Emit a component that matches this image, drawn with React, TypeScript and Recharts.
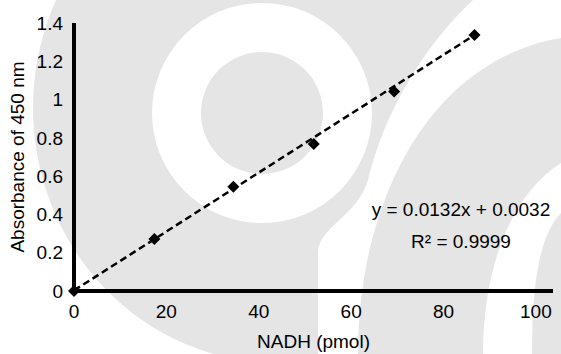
import { ScatterChart, Scatter, XAxis, YAxis } from 'recharts';

const nadh = [0, 17.4, 34.5, 51.9, 69.3, 86.7];
const absorbance = [0, 0.272, 0.545, 0.768, 1.042, 1.337];
const trendNadh = [0, 86.7];
const trendAbs = [0.003, 1.337];
const xTicks = [0, 20, 40, 60, 80, 100];
const yTicks = [0, 0.2, 0.4, 0.6, 0.8, 1, 1.2, 1.4];
const equationLines = ['y = 0.0132x + 0.0032', 'R² = 0.9999'];

const points = nadh.map((x, i) => ({ x, y: absorbance[i] }));
const trend = trendNadh.map((x, i) => ({ x, y: trendAbs[i] }));

const font = '"Liberation Sans", Arial, sans-serif';
const gray = '#e5e5e5';

// light logo watermark behind the plot
function Watermark() {
  return (
    <svg width={561} height={354} style={{ position: 'absolute', left: 0, top: 0 }}>
      <rect width={561} height={354} fill="#fff" />
      <ellipse cx={278} cy={108} rx={245} ry={255} fill={gray} />
      <path d="M 473 0 C 425 45 385 110 368 180 C 358 215 322 225 318 250 L 318 354 L 561 354 L 561 0 Z" fill="#fff" />
      <path d="M 358 354 C 358 200 430 60 561 38 L 561 354 Z" fill={gray} />
      <circle cx={262} cy={113} r={110} fill="#fff" />
      <circle cx={262} cy={113} r={61} fill={gray} />
      <path d="M 483 354 C 483 270 510 195 561 163 L 561 354 Z" fill="#fff" />
      <path d="M 532 354 C 532 280 540 235 561 213 L 561 354 Z" fill={gray} />
    </svg>
  );
}

const Diamond = (props: any) => {
  const { cx, cy } = props;
  const s = 6;
  return <path d={`M ${cx} ${cy - s} L ${cx + s} ${cy} L ${cx} ${cy + s} L ${cx - s} ${cy} Z`} fill="#000" />;
};

export default function App() {
  const tickStyle = { fill: '#000', fontSize: 19, fontFamily: font };
  return (
    <div style={{ position: 'absolute', left: 0, top: 0, width: 561, height: 354, overflow: 'hidden' }}>
      <Watermark />
      <div style={{ position: 'absolute', left: 0, top: 0 }}>
        <ScatterChart width={561} height={354} margin={{ top: 23, right: 8, bottom: 0, left: 0 }}>
          <XAxis
            type="number"
            dataKey="x"
            domain={[0, 103.7]}
            ticks={xTicks}
            tickLine={false}
            tickSize={0}
            tickMargin={14}
            height={63}
            axisLine={{ stroke: '#000', strokeWidth: 4 }}
            tick={tickStyle}
            label={{ value: 'NADH (pmol)', position: 'insideBottom', offset: 6, style: { fill: '#000', fontSize: 19, fontFamily: font } }}
          />
          <YAxis
            type="number"
            dataKey="y"
            domain={[0, 1.4]}
            ticks={yTicks}
            tickLine={false}
            tickSize={0}
            tickMargin={11}
            width={74}
            axisLine={{ stroke: '#000', strokeWidth: 4 }}
            tick={tickStyle}
            label={{
              value: 'Absorbance of 450 nm',
              angle: -90,
              position: 'insideLeft',
              offset: 17,
              style: { textAnchor: 'middle', fill: '#000', fontSize: 19, fontFamily: font },
            }}
          />
          <Scatter
            data={trend}
            line={{ stroke: '#000', strokeWidth: 2.5, strokeDasharray: '7 4' }}
            shape={() => <g />}
            isAnimationActive={false}
          />
          <Scatter data={points} shape={Diamond} isAnimationActive={false} />
        </ScatterChart>
      </div>
      <div
        style={{
          position: 'absolute',
          left: 341,
          top: 194,
          width: 240,
          textAlign: 'center',
          fontFamily: font,
          fontSize: 19,
          lineHeight: '32px',
          color: '#000',
        }}
      >
        {equationLines.map((t) => (
          <div key={t}>{t}</div>
        ))}
      </div>
    </div>
  );
}
